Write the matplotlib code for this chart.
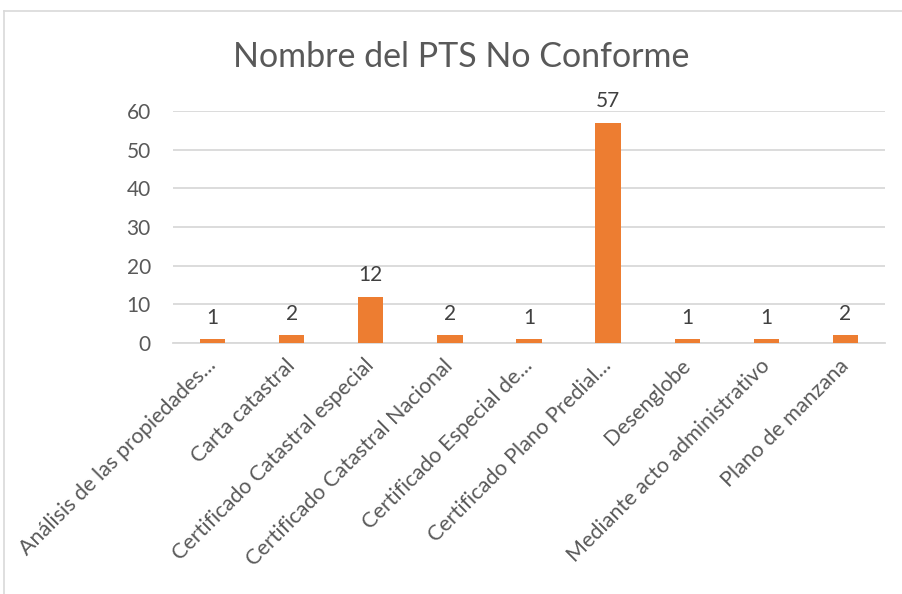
import matplotlib
matplotlib.use("Agg")
import matplotlib.pyplot as plt
from matplotlib.lines import Line2D

categories = [
    "Análisis de las propiedades...",
    "Carta catastral",
    "Certificado Catastral especial",
    "Certificado Catastral Nacional",
    "Certificado Especial de...",
    "Certificado Plano Predial...",
    "Desenglobe",
    "Mediante acto administrativo",
    "Plano de manzana",
]
values = [1, 2, 12, 2, 1, 57, 1, 1, 2]
yticks = [0, 10, 20, 30, 40, 50, 60]
title = "Nombre del PTS No Conforme"

plt.rcParams['font.family'] = ['Lato', 'DejaVu Sans']
txt = '#595959'
bar_color = '#ED7D31'
grid_color = '#D9D9D9'
fs = 15

fig = plt.figure(figsize=(9.02, 5.94), dpi=100)
W, H = 902, 594
ax = fig.add_axes([173 / W, 1 - 343 / H, (885 - 173) / W, (343 - 111) / H])

x = list(range(len(categories)))
ax.bar(x, values, width=0.32, color=bar_color, zorder=3)
ax.set_xlim(-0.5, len(categories) - 0.5)
ax.set_ylim(0, 60)
ax.set_yticks(yticks)
ax.set_yticklabels([str(v) for v in yticks], color=txt, fontsize=fs)
ax.yaxis.grid(True, color=grid_color, linewidth=1.3, zorder=0)
ax.tick_params(axis='both', length=0)
ax.tick_params(axis='y', pad=16)
for s in ['top', 'right', 'left']:
    ax.spines[s].set_visible(False)
ax.spines['bottom'].set_color(grid_color)
ax.spines['bottom'].set_linewidth(1.3)

ax.set_xticks(x)
ax.set_xticklabels(categories, rotation=45, ha='right', va='center',
                   rotation_mode='anchor', color=txt, fontsize=15.5)
ax.tick_params(axis='x', pad=14)

for xi, v in zip(x, values):
    ax.annotate(str(v), (xi, v), xytext=(0, 8), textcoords='offset points',
                ha='center', va='bottom', color='#404040', fontsize=fs)

fig.text(461 / W, 1 - 57 / H, title, ha='center', va='center',
         color=txt, fontsize=24.5)

# chart border (left and top edges visible)
fig.add_artist(Line2D([4 / W, 4 / W], [0, 1 - 11 / H], transform=fig.transFigure,
                      color='#D9D9D9', linewidth=1.2))
fig.add_artist(Line2D([4 / W, 1], [1 - 11 / H, 1 - 11 / H], transform=fig.transFigure,
                      color='#D9D9D9', linewidth=1.2))

fig.savefig('out.png', dpi=100, facecolor='white')
